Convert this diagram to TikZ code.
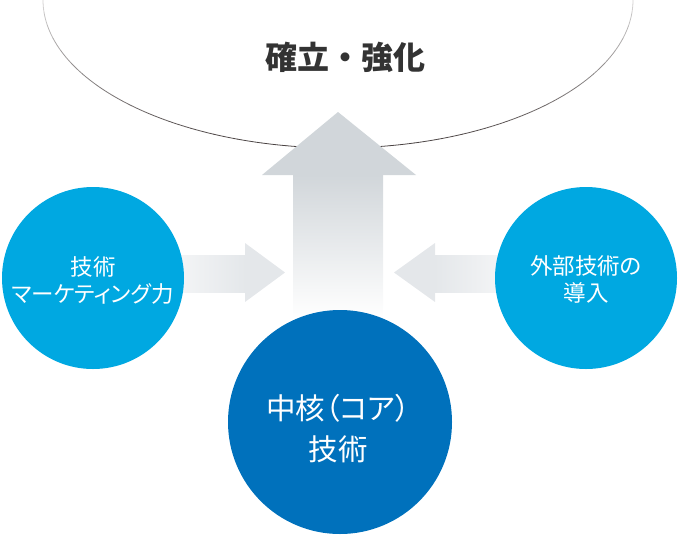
\documentclass[tikz,border=0pt]{standalone}
\usepackage{fontspec}
\newfontfamily\cjk{Noto Sans CJK JP}
\newfontfamily\cjkp[RawFeature=+palt]{Noto Sans CJK JP}
\definecolor{arcgray}{HTML}{3C3434}
\definecolor{upgray}{HTML}{D1D6DA}
\definecolor{sidegray}{HTML}{E4E7EA}
\definecolor{lightblue}{HTML}{00A8E1}
\definecolor{darkblue}{HTML}{0071BC}
\definecolor{titlegray}{HTML}{333333}
\tikzset{
  sidecircle/.style={circle, fill=lightblue, minimum size=182pt, inner sep=0pt},
  corecircle/.style={circle, fill=darkblue, minimum size=224pt, inner sep=0pt},
  sidetext/.style={text=white, align=center, inner sep=0pt, font=\cjkp\fontsize{22.5}{27}\selectfont},
  coretext/.style={text=white, align=center, inner sep=0pt, font=\cjkp\fontsize{29.5}{41}\selectfont},
  titletext/.style={text=titlegray, font=\cjk\bfseries\fontsize{32}{36}\selectfont}
}
\begin{document}
\begin{tikzpicture}[x=1pt,y=-1pt]
\useasboundingbox (0,0) rectangle (679,536);
% top arc (fading toward top)
\foreach \i in {0,...,35}{
  \pgfmathsetmacro\aa{180-5*\i}
  \pgfmathsetmacro\ab{180-5*(\i+1)}
  \pgfmathsetmacro\m{20+75*abs(sin(\aa-2.5))}
  \draw[arcgray!\m!white, line width=0.8pt, line cap=round]
    ({338+295*cos(\aa)},{148*sin(\aa)}) arc[start angle=\aa, end angle=\ab, x radius=295, y radius=148];
}
\node[titletext] (title) at (345,57) {確立・強化};
% up arrow
\fill[upgray] (338,112) -- (416,175) -- (262,175) -- cycle;
\shade[top color=upgray, bottom color=white] (293,174.5) rectangle (383,318);
% left arrow
\shade[left color=white!60!sidegray, right color=sidegray] (175,255) rectangle (245.5,292);
\fill[sidegray] (245,243) -- (285,272.5) -- (245,302) -- cycle;
% right arrow
\shade[right color=white!60!sidegray, left color=sidegray] (434.5,255) rectangle (505,292);
\fill[sidegray] (435,243) -- (394,272.5) -- (435,302) -- cycle;
% circles
\node[sidecircle] (left) at (93,278) {};
\node[sidetext] (lefttext) at (93,280) {技術\\マーケティング力};
\node[sidecircle] (right) at (586,278) {};
\node[sidetext] (righttext) at (586,279) {外部技術の\\導入};
\node[corecircle] (core) at (340,422) {};
\node[coretext] (coretxt) at (338,428.5) {中核（コア）\\技術};
\end{tikzpicture}
\end{document}
